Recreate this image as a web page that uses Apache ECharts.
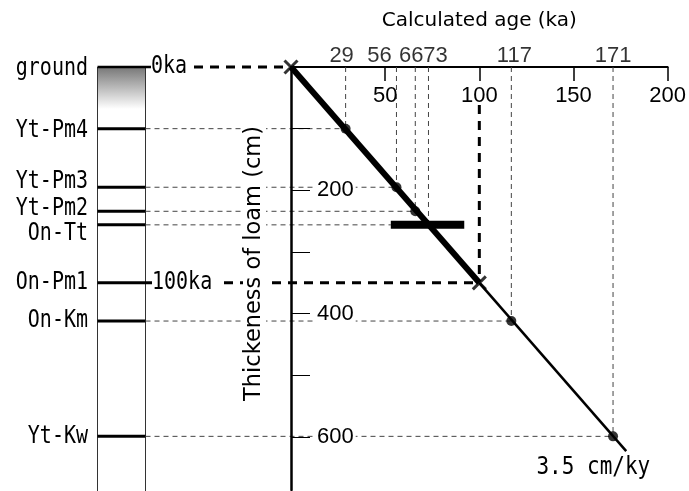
<!DOCTYPE html>
<html><head><meta charset="utf-8">
<script src="https://cdn.jsdelivr.net/npm/echarts@6/dist/echarts.min.js"></script>
<style>html,body{margin:0;padding:0;background:#fff}#c{width:689px;height:491px}</style>
</head><body><div id="c"></div>
<script>
// ---- data ----
const layerNames = ['Yt-Pm4', 'Yt-Pm3', 'Yt-Pm2', 'On-Tt', 'On-Pm1', 'On-Km', 'Yt-Kw'];
const layerDepths = [100, 195, 234, 256, 350, 412, 599];   // cm below ground
const layerAges = [29, 56, 66, 73, 100, 117, 171];          // ka
const onTtAgeRange = [53, 92];                               // ka
const groundPoint = [0, 0];
const rateLineEnd = [178, 623];
const rateText = '3.5 cm/ky';
const ageTicks = [50, 100, 150, 200];
const depthTicks = [100, 200, 300, 400, 500, 600];
const depthTickLabels = [200, 400, 600];
const groundName = 'ground';
const anchorLabels = ['0ka', '100ka'];

// ---- style ----
const NUM = "'Liberation Sans',sans-serif";
const MONO = "'DejaVu Sans Mono',monospace";
const SANS = "'DejaVu Sans',sans-serif";
const markerKind = ['dot', 'dot', 'dot', 'bar', 'cross', 'dot', 'dot'];
const labelNudge = [2, -5, -3, 9, 0, 0, 0];
const ageLabelShift = [-4, -17, -4, 7, 3, 0];
const crossSym = 'path://M0,0L10,10M10,0L0,10';

const pm1 = layerNames.indexOf('On-Pm1');
const ttIdx = layerNames.indexOf('On-Tt');
const topAgeIdx = layerAges.map((a, i) => i).filter(i => i !== pm1);

const chart = echarts.init(document.getElementById('c'));

function renderColumn(params, api) {
  const P = (x, y) => api.coord([x, y]);
  const g0 = P(groundPoint[0], groundPoint[1]);
  const top = g0[1];
  const colL = 97.5, colR = 145.5, labR = 88, bottom = 491;
  const ch = [];
  const dashThin = { stroke: '#444', lineWidth: 1, lineDash: [5, 4] };
  const dashThick = { stroke: '#000', lineWidth: 3, lineDash: [9, 7] };
  ch.push({ type: 'rect', shape: { x: colL, y: top, width: colR - colL, height: 42 },
    style: { fill: new echarts.graphic.LinearGradient(0, 0, 0, 1, [
      { offset: 0, color: '#777777' }, { offset: 1, color: '#ffffff' }]) } });
  ch.push({ type: 'line', shape: { x1: colL, y1: top, x2: colL, y2: bottom }, style: { stroke: '#333', lineWidth: 1 } });
  ch.push({ type: 'line', shape: { x1: colR, y1: top, x2: colR, y2: bottom }, style: { stroke: '#333', lineWidth: 1 } });
  ch.push({ type: 'line', shape: { x1: colL, y1: top, x2: 151, y2: top }, style: { stroke: '#000', lineWidth: 2.5 } });
  const txt = (text, x, y, align, size, sy) => ({ type: 'text', x: x, y: y, scaleY: sy,
    style: { text: text, x: 0, y: 0, align: align, verticalAlign: 'middle', fill: '#000', font: size + 'px ' + MONO } });
  ch.push(txt(groundName, labR, top + 2, 'right', 20, 1.2));
  ch.push(txt(anchorLabels[0], 151, top, 'left', 20, 1.2));
  ch.push({ type: 'line', shape: { x1: 194, y1: top, x2: g0[0] - 6, y2: top }, style: dashThick });

  layerNames.forEach((name, i) => {
    const p = P(layerAges[i], layerDepths[i]);
    const y = p[1];
    const isPm1 = i === pm1;
    ch.push({ type: 'line', shape: { x1: colL, y1: y, x2: isPm1 ? 152 : colR, y2: y }, style: { stroke: '#000', lineWidth: 3 } });
    ch.push(txt(name, labR, y + labelNudge[i], 'right', 20, 1.2));
    if (isPm1) {
      ch.push(txt(anchorLabels[1], 152, y, 'left', 20, 1.2));
      ch.push({ type: 'line', shape: { x1: 224, y1: y, x2: p[0] - 6, y2: y }, style: dashThick });
      ch.push({ type: 'line', shape: { x1: p[0], y1: top + 38, x2: p[0], y2: y - 6 }, style: dashThick });
    } else {
      const hx = markerKind[i] === 'bar' ? P(onTtAgeRange[0], 0)[0] : p[0];
      ch.push({ type: 'line', shape: { x1: colR, y1: y, x2: hx, y2: y }, style: dashThin });
      ch.push({ type: 'line', shape: { x1: p[0], y1: top, x2: p[0], y2: y }, style: dashThin });
    }
  });
  const e = P(rateLineEnd[0], rateLineEnd[1]);
  ch.push(txt(rateText, e[0] + 24, e[1] + 17, 'right', 21, 1.15));
  return { type: 'group', children: ch };
}

const option = {
  animation: false,
  grid: { left: 291, top: 67, width: 377, height: 423 },
  xAxis: {
    type: 'value', position: 'top', min: 0, max: 200,
    name: 'Calculated age (ka)', nameLocation: 'middle', nameGap: 36,
    nameTextStyle: { fontFamily: SANS, fontSize: 20, color: '#000' },
    axisLine: { show: true, onZero: false, lineStyle: { color: '#000', width: 2 } },
    axisTick: { show: true, inside: true, length: 14, customValues: ageTicks, lineStyle: { color: '#000', width: 1.5 } },
    axisLabel: { inside: true, margin: 18, customValues: ageTicks, fontFamily: NUM, fontSize: 22, color: '#000' },
    splitLine: { show: false }
  },
  yAxis: {
    type: 'value', inverse: true, min: 0, max: 686, position: 'left', z: 5,
    name: 'Thickeness of loam (cm)', nameLocation: 'middle', nameGap: 25, nameRotate: 90,
    nameTextStyle: { fontFamily: SANS, fontSize: 22.5, color: '#000', backgroundColor: '#fff', padding: [0, 0, 0, 30] },
    axisLine: { show: true, onZero: false, lineStyle: { color: '#000', width: 2.5 } },
    axisTick: { show: true, inside: true, length: 19, customValues: depthTicks, lineStyle: { color: '#000', width: 1 } },
    axisLabel: { inside: true, margin: 24, customValues: depthTickLabels, fontFamily: NUM, fontSize: 22, color: '#000', backgroundColor: '#fff', padding: [0, 2] },
    splitLine: { show: false }
  },
  series: [
    { type: 'custom', coordinateSystem: 'cartesian2d', clip: false, silent: true, data: [[0, 0]], renderItem: renderColumn, z: 1 },
    { type: 'line', data: [groundPoint, [layerAges[pm1], layerDepths[pm1]]], symbol: 'none', silent: true,
      lineStyle: { color: '#000', width: 6 } },
    { type: 'line', data: [[layerAges[pm1], layerDepths[pm1]], rateLineEnd], symbol: 'none', silent: true,
      lineStyle: { color: '#000', width: 2.5 } },
    { type: 'line', data: onTtAgeRange.map(a => [a, layerDepths[ttIdx]]), symbol: 'none', silent: true,
      lineStyle: { color: '#000', width: 8, cap: 'butt' } },
    { type: 'scatter', silent: true, clip: false, symbolSize: 10, itemStyle: { color: '#000' },
      data: layerNames.map((n, i) => i).filter(i => markerKind[i] === 'dot').map(i => [layerAges[i], layerDepths[i]]) },
    { type: 'scatter', silent: true, clip: false, symbol: crossSym, symbolSize: 13,
      itemStyle: { color: 'none', borderColor: '#000', borderWidth: 3 },
      data: [groundPoint].concat(layerNames.map((n, i) => i).filter(i => markerKind[i] === 'cross').map(i => [layerAges[i], layerDepths[i]])) },
    { type: 'scatter', silent: true, clip: false, symbolSize: 1, itemStyle: { color: 'rgba(0,0,0,0)' },
      data: topAgeIdx.map((i, k) => ({ value: [layerAges[i], 0],
        label: { show: true, position: 'top', distance: 0, offset: [ageLabelShift[k], 0], formatter: String(layerAges[i]),
          fontFamily: NUM, fontSize: 22, color: '#000' } })) }
  ]
};
chart.setOption(option);
</script></body></html>
